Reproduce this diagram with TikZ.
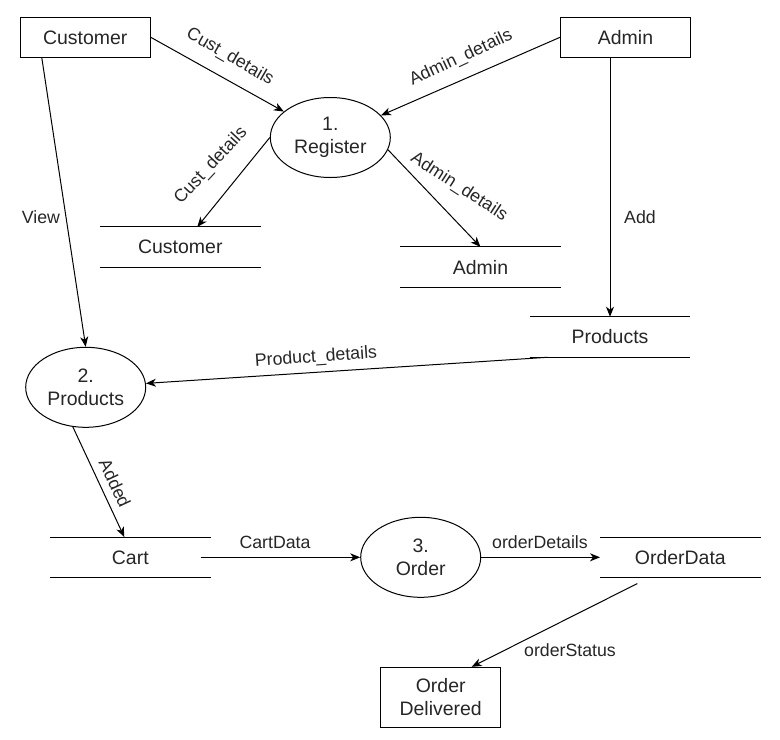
\documentclass[tikz,border=0pt]{standalone}
\usepackage{fontspec}
\setmainfont{Liberation Sans}
\usetikzlibrary{shapes.geometric,arrows.meta,calc}
\tikzset{
  every node/.style={text=black!85},
  nodefont/.style={font=\fontsize{14.6}{17}\selectfont},
  lblfont/.style={font=\fontsize{13.3}{15}\selectfont, inner sep=0pt},
  ent/.style={draw, nodefont, minimum width=97.5pt, minimum height=30pt, inner sep=0pt, line width=0.75pt},
  proc/.style={draw, ellipse, nodefont, minimum width=90pt, minimum height=60pt, inner sep=0pt, align=center, line width=0.75pt},
  store/.style={nodefont, minimum width=120pt, minimum height=30pt, inner sep=0pt},
  storeline/.style={line width=0.75pt},
  flow/.style={line width=0.75pt, -{Stealth[length=7.5pt,width=6pt,inset=2.2pt]}},
}
\begin{document}
\begin{tikzpicture}[x=0.75pt,y=-0.75pt]
\useasboundingbox (0,0) rectangle (780,739);
% entities
\node[ent] (cust) at (85.3,37.3) {Customer};
\node[ent] (adm) at (625.5,37.3) {Admin};
\node[ent, minimum width=90pt, minimum height=45pt, align=center] (odl) at (440.7,697.3) {Order\\Delivered};
% processes
\node[proc] (reg) at (330.3,137.5) {1.\\Register};
\node[proc] (pp) at (85.7,387.3) {2.\\Products};
\node[proc] (ord) at (420.7,557.3) {3.\\Order};
% stores
\node[store] (cs) at (180.3,247.2) {Customer};
\node[store] (as) at (480.5,267.2) {Admin};
\node[store] (ps) at (610,337) {Products};
\node[store] (cart) at (130.3,557.3) {Cart};
\node[store] (od) at (680.3,557.3) {OrderData};
\foreach \s in {cs,as,ps,cart,od}{
  \draw[storeline] (\s.north west) -- (\s.north east);
  \draw[storeline] (\s.south west) -- (\s.south east);
}
% flows
\draw[flow] (cust.east) -- (reg);
\draw[flow] (adm.west) -- (reg);
\draw[flow] (reg.west) -- ($(cs.north)+(17,0)$);
\draw[flow] (reg.-12) -- (as.north);
\draw[flow] (ps.north |- adm.south) -- (ps.north);
\draw[flow] ($(cust.south west)+(22,0)$) -- (pp.north);
\draw[flow] ($(ps.south west)+(18,0)$) -- (pp);
\draw[flow] (pp.-108) -- ($(cart.north)+(-6,0)$);
\draw[flow] ($(cart.east)+(-10,0)$) -- (ord.west);
\draw[flow] (ord.east) -- (od.west);
\draw[flow] ($(od.south)+(-43,6)$) -- ($(odl.north)+(31,0)$);
% labels
\node[lblfont, rotate=-30] (l1) at (230,57) {Cust\_details};
\node[lblfont, rotate=47] (l2) at (211,166) {Cust\_details};
\node[lblfont, rotate=25] (l3) at (461,58) {Admin\_details};
\node[lblfont, rotate=-33] (l4) at (459,187) {Admin\_details};
\node[lblfont] (l5) at (640,217) {Add};
\node[lblfont] (l6) at (41,217) {View};
\node[lblfont, rotate=4] (l7) at (316,357.5) {Product\_details};
\node[lblfont, rotate=-65] (l8) at (115,483) {Added};
\node[lblfont] (l9) at (275,542) {CartData};
\node[lblfont] (l10) at (540,542) {orderDetails};
\node[lblfont] (l11) at (570,650) {orderStatus};
\end{tikzpicture}
\end{document}
